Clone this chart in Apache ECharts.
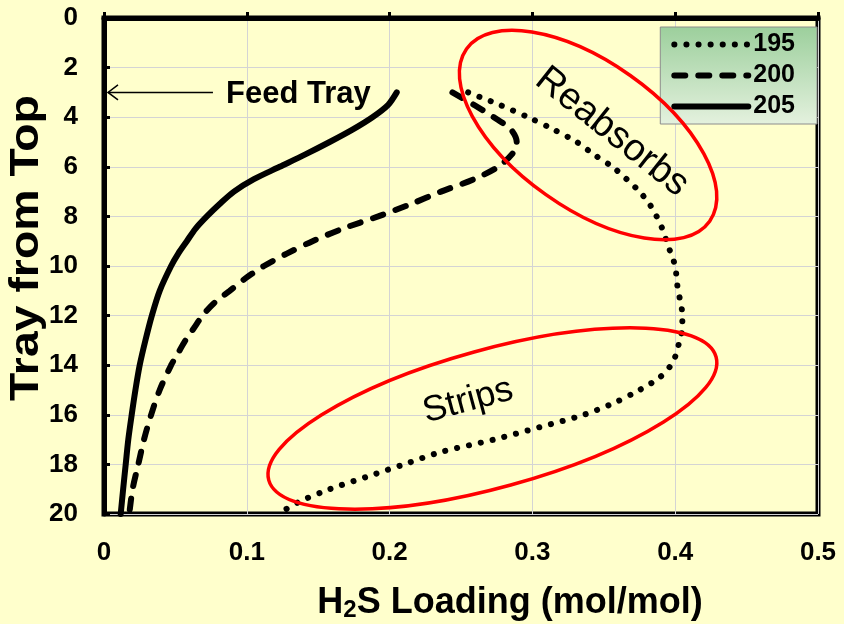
<!DOCTYPE html>
<html>
<head>
<meta charset="utf-8">
<script src="https://cdn.jsdelivr.net/npm/echarts@6/dist/echarts.min.js"></script>
<style>
  html, body { margin: 0; padding: 0; background: #FFFFCC; }
  #chart { width: 844px; height: 624px; }
</style>
</head>
<body>
<div id="chart"></div>
<script>
// H2S loading profiles down the absorber, one per lean temperature
const trays195 = [3, 3.5, 4, 4.5, 5, 5.5, 6, 6.5, 7, 7.5, 8, 8.5, 9, 9.5, 10, 10.5, 11, 11.5, 12, 12.5, 13, 13.5, 14, 14.5, 15, 15.5, 16, 16.5, 17, 17.5, 18, 18.5, 19, 19.5, 20];
const h2s195   = [0.255, 0.277, 0.297, 0.315, 0.331, 0.343, 0.356, 0.366, 0.375, 0.382, 0.387, 0.391, 0.394, 0.397, 0.400, 0.401, 0.402, 0.404, 0.405, 0.405, 0.403, 0.401, 0.397, 0.389, 0.375, 0.358, 0.336, 0.305, 0.273, 0.236, 0.210, 0.184, 0.158, 0.137, 0.122];

const trays200 = [3, 3.5, 4, 4.5, 5, 5.4, 6, 6.5, 7, 7.5, 8, 8.5, 9, 9.5, 10, 10.5, 11, 11.5, 12, 12.5, 13, 13.5, 14, 15, 16, 17, 18, 19, 20];
const h2s200   = [0.244, 0.259, 0.273, 0.285, 0.289, 0.287, 0.276, 0.259, 0.236, 0.215, 0.192, 0.167, 0.146, 0.128, 0.112, 0.099, 0.088, 0.077, 0.069, 0.063, 0.057, 0.052, 0.047, 0.039, 0.033, 0.028, 0.024, 0.020, 0.0177];

const trays205 = [3, 3.5, 4, 4.5, 5, 5.5, 6, 6.5, 7, 7.5, 8, 8.5, 9, 9.5, 10, 11, 12, 13, 14, 15, 16, 17, 18, 19, 20];
const h2s205   = [0.205, 0.199, 0.188, 0.174, 0.158, 0.141, 0.123, 0.105, 0.091, 0.081, 0.072, 0.064, 0.058, 0.052, 0.047, 0.039, 0.0335, 0.029, 0.025, 0.022, 0.0194, 0.017, 0.0152, 0.0134, 0.0117];

const seriesNames = ['195', '200', '205'];

const xTicks = { min: 0, max: 0.5, interval: 0.1 };
const yTicks = { min: 0, max: 20, interval: 2 };

// annotation anchors in data units: [H2S loading, tray]
const feedArrowTail = [0.0763, 3];
const feedArrowTip = [0.0028, 3];
const reabsorbCenter = [0.339, 4.72];
const stripCenter = [0.272, 16.15];

const pair = (xs, ys) => xs.map((x, i) => [ys[i], x]);

const FONT = '"Liberation Sans", Arial, sans-serif';
const chart = echarts.init(document.getElementById('chart'), null, { renderer: 'canvas' });

chart.setOption({
  backgroundColor: '#FFFFCC',
  animation: false,
  textStyle: { fontFamily: FONT },
  grid: {
    left: 104, right: 26, top: 18, bottom: 110,
    show: true, borderColor: '#000', borderWidth: 5, backgroundColor: 'transparent'
  },
  xAxis: {
    type: 'value', min: xTicks.min, max: xTicks.max, interval: xTicks.interval,
    axisLine: { show: true, lineStyle: { color: '#000', width: 5 } },
    axisTick: { show: true, inside: true, length: 6, lineStyle: { color: '#000', width: 3 } },
    splitLine: { show: true, lineStyle: { color: '#d4d4d4', width: 1 } },
    axisLabel: {
      margin: 26, color: '#000', fontWeight: 'bold', fontSize: 26, fontFamily: FONT,
      formatter: v => (v === 0 ? '0' : v.toFixed(1))
    }
  },
  yAxis: {
    type: 'value', inverse: true, min: yTicks.min, max: yTicks.max, interval: yTicks.interval,
    axisLine: { show: true, lineStyle: { color: '#000', width: 5 } },
    axisTick: { show: true, inside: true, length: 6, lineStyle: { color: '#000', width: 3 } },
    splitLine: { show: true, lineStyle: { color: '#d4d4d4', width: 1 } },
    axisLabel: { margin: 26, color: '#000', fontWeight: 'bold', fontSize: 26, fontFamily: FONT }
  },
  legend: {
    orient: 'vertical', right: 27, top: 27,
    padding: [5, 22, 5, 11], itemGap: 6, itemWidth: 74, itemHeight: 14,
    borderColor: '#8c8c8c', borderWidth: 1,
    backgroundColor: {
      type: 'linear', x: 0, y: 0, x2: 0, y2: 1,
      colorStops: [{ offset: 0, color: '#9ccf9c' }, { offset: 1, color: '#e4f1de' }]
    },
    itemStyle: { opacity: 0 },
    lineStyle: { width: 6 },
    textStyle: { color: '#000', fontWeight: 'bold', fontSize: 25, lineHeight: 25, fontFamily: FONT },
    data: seriesNames
  },
  series: [
    {
      name: seriesNames[0], type: 'line', smooth: 0.3, symbol: 'none',
      lineStyle: { color: '#000', width: 6, type: [0.1, 12], cap: 'round' },
      data: pair(trays195, h2s195), z: 3
    },
    {
      name: seriesNames[1], type: 'line', smooth: 0.3, symbol: 'none',
      lineStyle: { color: '#000', width: 6, type: [11, 13], cap: 'round' },
      data: pair(trays200, h2s200), z: 3
    },
    {
      name: seriesNames[2], type: 'line', smooth: 0.3, symbol: 'none',
      lineStyle: { color: '#000', width: 6, type: 'solid', cap: 'round' },
      data: pair(trays205, h2s205), z: 3
    }
  ]
});

// overlay annotations positioned from data coordinates
const px = p => chart.convertToPixel({ gridIndex: 0 }, p);
const tail = px(feedArrowTail), tip = px(feedArrowTip);
const rc = px(reabsorbCenter), sc = px(stripCenter);
const deg = a => a * Math.PI / 180;

chart.setOption({
  graphic: [
    {
      type: 'line', z: 5,
      shape: { x1: tail[0], y1: tail[1], x2: tip[0], y2: tip[1] },
      style: { stroke: '#000', lineWidth: 1.5 }
    },
    {
      type: 'polyline', z: 5,
      shape: { points: [[tip[0] + 10, tip[1] - 7.5], [tip[0], tip[1]], [tip[0] + 10, tip[1] + 7.5]] },
      style: { stroke: '#000', lineWidth: 1.5, fill: null }
    },
    {
      type: 'text', z: 5, x: 226, y: tip[1] + 2,
      style: { text: 'Feed Tray', font: 'bold 31px ' + FONT, fill: '#000', align: 'left', verticalAlign: 'middle', textAlign: 'left', textVerticalAlign: 'middle' }
    },
    {
      type: 'ellipse', z: 4, x: rc[0], y: rc[1], rotation: deg(-35.3),
      shape: { cx: 0, cy: 0, rx: 149, ry: 73 },
      style: { stroke: '#ff0000', lineWidth: 3.5, fill: null }
    },
    {
      type: 'ellipse', z: 4, x: sc[0], y: sc[1], rotation: deg(15.4),
      shape: { cx: 0, cy: 0, rx: 232, ry: 69 },
      style: { stroke: '#ff0000', lineWidth: 3.5, fill: null }
    },
    {
      type: 'text', z: 5, x: 612, y: 132, rotation: deg(-38.5),
      style: { text: 'Reabsorbs', font: '38px ' + FONT, fill: '#000', align: 'center', verticalAlign: 'middle', textAlign: 'center', textVerticalAlign: 'middle' }
    },
    {
      type: 'text', z: 5, x: 468, y: 401, rotation: deg(15),
      style: { text: 'Strips', font: '36px ' + FONT, fill: '#000', align: 'center', verticalAlign: 'middle', textAlign: 'center', textVerticalAlign: 'middle' }
    },
    {
      type: 'text', z: 5, x: 27, y: 248, rotation: deg(90), scaleX: 1.16,
      style: { text: 'Tray from Top', font: 'bold 40px ' + FONT, fill: '#000', align: 'center', verticalAlign: 'middle', textAlign: 'center', textVerticalAlign: 'middle' }
    },
    {
      type: 'text', z: 5, x: 510, y: 603,
      style: {
        text: '{b|H}{s|2}{b|S Loading (mol/mol)}',
        rich: {
          b: { font: 'bold 36px ' + FONT, fill: '#000', color: '#000' },
          s: { font: 'bold 24px ' + FONT, fill: '#000', color: '#000', verticalAlign: 'bottom', padding: [14, 0, 0, 0] }
        },
        align: 'center', verticalAlign: 'middle', textAlign: 'center', textVerticalAlign: 'middle'
      }
    }
  ]
});
</script>
</body>
</html>
